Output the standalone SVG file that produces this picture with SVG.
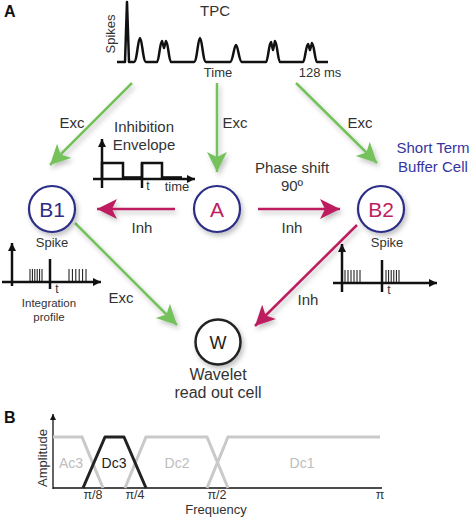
<svg xmlns="http://www.w3.org/2000/svg" width="472" height="518" viewBox="0 0 472 518">
<style>
text{font-family:"Liberation Sans",Arial,sans-serif;fill:#333}
.lbl{font-size:15px}
.sm{font-size:13px}
.pi{font-size:12.5px}
.ax{stroke:#111;stroke-width:2.5;fill:none}
.tk{stroke:#111;stroke-width:1}
.g{stroke:#74c25c;stroke-width:2.5;fill:none}
.r{stroke:#bd1e5f;stroke-width:2.5;fill:none}
.cell{fill:#fff;stroke:#2c2d86;stroke-width:2.2}
.gray{stroke:#c9c9c9;stroke-width:3;fill:none}
.gt{fill:#bdbdbd;font-size:14px}
</style>
<defs>
<marker id="ag" markerUnits="userSpaceOnUse" markerWidth="22" markerHeight="22" refX="20" refY="10" orient="auto">
<path d="M0,0 L20,10 L0,20 L5,10 z" fill="#74c25c"/>
</marker>
<marker id="ar" markerUnits="userSpaceOnUse" markerWidth="22" markerHeight="22" refX="20" refY="10" orient="auto">
<path d="M0,0 L20,10 L0,20 L5,10 z" fill="#bd1e5f"/>
</marker>
<marker id="ak" markerUnits="userSpaceOnUse" markerWidth="10" markerHeight="10" refX="8" refY="4" orient="auto">
<path d="M0,0 L8,4 L0,8 z" fill="#111"/>
</marker>
<marker id="aks" markerUnits="userSpaceOnUse" markerWidth="8" markerHeight="8" refX="6" refY="3" orient="auto">
<path d="M0,0 L6,3 L0,6 z" fill="#111"/>
</marker>
<filter id="sh" x="-30%" y="-30%" width="160%" height="160%">
<feDropShadow dx="2" dy="3" stdDeviation="2.5" flood-color="#000" flood-opacity="0.25"/>
</filter>
</defs>

<text x="4" y="17" style="font-size:16px;font-weight:bold;fill:#111">A</text>
<text x="4" y="423" style="font-size:16px;font-weight:bold;fill:#111">B</text>

<g id="tpc">
<text x="215" y="16" text-anchor="middle" class="lbl">TPC</text>
<text transform="translate(115,34) rotate(-90)" text-anchor="middle" class="sm">Spikes</text>
<path d="M117 62 L125 62 L127 2 L129 62 L134 62 C137 62 138 38 140 38 C142 38 143 62 146 62 L157 62 C159 62 160 41 162 41 L164 48 L166 41 C168 41 169 62 171 62 L194 62 C197 62 198 38 200 38 C202 38 203 62 206 62 L230 62 C233 62 234 45 236 45 C238 45 239 62 242 62 L266 62 C268 62 269 42 271 42 L273 50 L275 41 C277 41 278 62 280 62 L303 62 C305 62 306 44 308 44 L310 50 L312 43 C314 43 315 62 317 62 L328 62" class="ax" stroke-linejoin="round"/>
<text x="218" y="77" text-anchor="middle" class="sm">Time</text>
<text x="320" y="77" text-anchor="middle" class="sm">128 ms</text>
</g>

<g id="connectors">
<g filter="url(#sh)">
<line x1="132" y1="83" x2="50" y2="165" class="g" marker-end="url(#ag)"/>
<line x1="217" y1="83" x2="217" y2="172" class="g" marker-end="url(#ag)"/>
<line x1="296" y1="83" x2="377" y2="163" class="g" marker-end="url(#ag)"/>
<line x1="75" y1="223" x2="177" y2="325" class="g" marker-end="url(#ag)"/>
<line x1="175" y1="209" x2="97" y2="209" class="r" marker-end="url(#ar)"/>
<line x1="258" y1="209" x2="340" y2="209" class="r" marker-end="url(#ar)"/>
<line x1="357" y1="225" x2="255" y2="326" class="r" marker-end="url(#ar)"/>
</g>
<text x="72" y="128" text-anchor="middle" class="lbl">Exc</text>
<text x="235" y="128" text-anchor="middle" class="lbl">Exc</text>
<text x="360" y="128" text-anchor="middle" class="lbl">Exc</text>
<text x="142" y="233" text-anchor="middle" class="lbl">Inh</text>
<text x="292" y="233" text-anchor="middle" class="lbl">Inh</text>
<text x="121" y="303" text-anchor="middle" class="lbl">Exc</text>
<text x="308" y="305" text-anchor="middle" class="lbl">Inh</text>
<text x="292" y="173" text-anchor="middle" class="lbl">Phase shift</text>
<text x="292" y="191" text-anchor="middle" class="lbl">90º</text>
</g>

<g id="envelope">
<text x="144" y="132" text-anchor="middle" class="lbl">Inhibition</text>
<text x="144" y="150" text-anchor="middle" class="lbl">Envelope</text>
<line x1="102" y1="188" x2="102" y2="139" class="ax" stroke-width="2" marker-end="url(#ak)"/>
<line x1="93" y1="179" x2="195" y2="179" class="ax" stroke-width="2" marker-end="url(#ak)"/>
<path d="M102 179 L102 163 L123 163 L123 178 L142 178 L142 163 L162 163 L162 178 L182 178" class="ax" stroke-width="2.2"/>
<line x1="123" y1="178" x2="142" y2="178" stroke="#111" stroke-width="3.5"/>
<line x1="162" y1="178" x2="182" y2="178" stroke="#111" stroke-width="3.5"/>
<line x1="142" y1="163" x2="142" y2="188" class="ax" stroke-width="2.2"/>
<text x="148" y="190" text-anchor="middle" style="font-size:12px">t</text>
<text x="177" y="191" text-anchor="middle" class="sm">time</text>
</g>

<g id="B1">
<circle cx="52" cy="209" r="23" class="cell" filter="url(#sh)"/>
<text x="52" y="217" text-anchor="middle" style="font-size:21px;fill:#2c2d86">B1</text>
<text x="52" y="247" text-anchor="middle" class="sm">Spike</text>
</g>

<g id="A">
<circle cx="217" cy="209" r="23" class="cell" filter="url(#sh)"/>
<text x="217" y="217" text-anchor="middle" style="font-size:21px;fill:#bd1e5f">A</text>
</g>

<g id="B2">
<circle cx="381" cy="209" r="23" class="cell" filter="url(#sh)"/>
<text x="381" y="217" text-anchor="middle" style="font-size:21px;fill:#bd1e5f">B2</text>
<text x="387" y="247" text-anchor="middle" class="sm">Spike</text>
<text x="433" y="153" text-anchor="middle" style="font-size:15px;fill:#3535a0">Short Term</text>
<text x="433" y="172" text-anchor="middle" style="font-size:15px;fill:#3535a0">Buffer Cell</text>
</g>

<g id="W">
<circle cx="218" cy="342" r="22.5" fill="#fff" stroke="#222" stroke-width="2.5" filter="url(#sh)"/>
<text x="218" y="349" text-anchor="middle" style="font-size:18px;fill:#222">W</text>
<text x="218" y="380" text-anchor="middle" style="font-size:16px">Wavelet</text>
<text x="218" y="398" text-anchor="middle" style="font-size:16px">read out cell</text>
</g>

<g id="integration">
<line x1="12" y1="286" x2="12" y2="243" class="ax" stroke-width="2" marker-end="url(#ak)"/>
<line x1="2" y1="282" x2="101" y2="282" class="ax" stroke-width="2" marker-end="url(#ak)"/>
<path d="M30 269V282M32.4 269V282M34.8 269V282M37.2 269V282M39.6 269V282M42 269V282M69 269V282M72.4 269V282M75.8 269V282M79.2 269V282M82.6 269V282M86 269V282" class="tk"/>
<line x1="50" y1="259" x2="50" y2="289" class="ax" stroke-width="2.2"/>
<text x="57" y="293" text-anchor="middle" style="font-size:12px">t</text>
<text x="49" y="307" text-anchor="middle" style="font-size:11.5px">Integration</text>
<text x="49" y="321" text-anchor="middle" style="font-size:11.5px">profile</text>
</g>

<g id="spikeB2">
<line x1="342" y1="292" x2="342" y2="244" class="ax" stroke-width="2" marker-end="url(#ak)"/>
<line x1="333" y1="283" x2="437" y2="283" class="ax" stroke-width="2" marker-end="url(#ak)"/>
<path d="M345 270V283M348 270V283M351 270V283M354 270V283M357 270V283M360 270V283M386 270V283M388.6 270V283M391.2 270V283M393.8 270V283M396.4 270V283M399 270V283" class="tk"/>
<line x1="382" y1="260" x2="382" y2="292" class="ax" stroke-width="2.2"/>
<text x="389" y="294" text-anchor="middle" style="font-size:12px">t</text>
</g>

<g id="panelB">
<text transform="translate(47,458) rotate(-90)" text-anchor="middle" style="font-size:13px">Amplitude</text>
<line x1="53" y1="489" x2="53" y2="414" stroke="#111" stroke-width="1.3" marker-end="url(#aks)"/>
<line x1="53" y1="488" x2="382" y2="488" stroke="#111" stroke-width="1.3"/>
<path d="M53 437 L82 437 L103 488" class="gray"/>
<path d="M125 488 L146 437 L207 437 L228 488" class="gray"/>
<path d="M207 488 L228 437 L380 437" class="gray"/>
<path d="M83 488 L105 437 L124 437 L146 488" fill="none" stroke="#222" stroke-width="3" stroke-linejoin="round"/>
<text x="71" y="468" text-anchor="middle" class="gt">Ac3</text>
<text x="114" y="468" text-anchor="middle" style="font-size:14px;fill:#222">Dc3</text>
<text x="177" y="468" text-anchor="middle" class="gt">Dc2</text>
<text x="302" y="468" text-anchor="middle" class="gt">Dc1</text>
<text x="93" y="499" text-anchor="middle" class="pi">π/8</text>
<text x="135" y="499" text-anchor="middle" class="pi">π/4</text>
<text x="217" y="499" text-anchor="middle" class="pi">π/2</text>
<text x="380" y="499" text-anchor="middle" class="pi">π</text>
<text x="216" y="514" text-anchor="middle" class="sm">Frequency</text>
</g>
</svg>
